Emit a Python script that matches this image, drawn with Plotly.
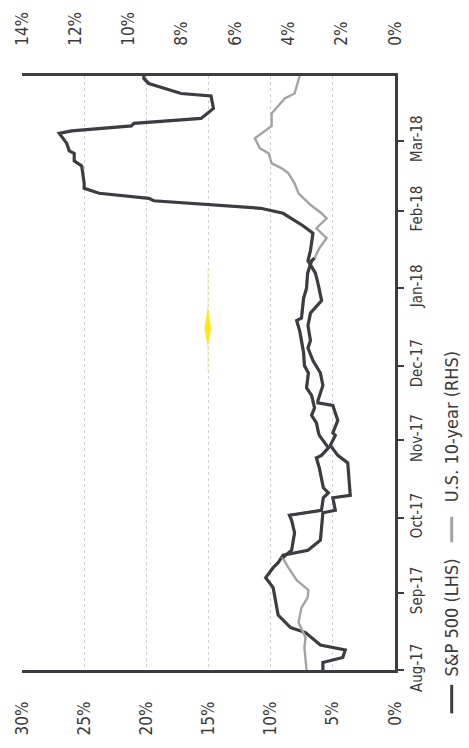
import pandas as pd
import plotly.graph_objects as go

# S&P 500 rolling volatility (left-hand scale, %)
spx_dates = [
    "2017-08-01", "2017-08-04", "2017-08-06", "2017-08-09", "2017-08-11", "2017-08-16",
    "2017-08-18", "2017-08-21", "2017-08-23", "2017-09-03", "2017-09-07", "2017-09-11",
    "2017-09-13", "2017-09-16", "2017-09-18", "2017-09-22", "2017-10-01", "2017-10-03",
    "2017-10-04", "2017-10-09", "2017-10-10", "2017-10-21", "2017-10-23", "2017-10-26",
    "2017-10-30", "2017-11-03", "2017-11-04", "2017-11-09", "2017-11-15", "2017-11-16",
    "2017-11-17", "2017-11-23", "2017-11-28", "2017-12-03", "2017-12-08", "2017-12-11",
    "2017-12-17", "2017-12-22", "2017-12-27", "2018-01-03", "2018-01-07", "2018-01-12",
    "2018-01-16", "2018-01-23", "2018-01-26", "2018-01-31", "2018-02-02", "2018-02-05",
    "2018-02-06", "2018-02-08", "2018-02-10", "2018-02-12", "2018-02-19", "2018-02-21",
    "2018-02-24", "2018-02-25", "2018-02-28", "2018-03-04", "2018-03-05", "2018-03-07",
    "2018-03-08", "2018-03-10", "2018-03-14", "2018-03-19", "2018-03-20", "2018-03-24",
    "2018-03-26", "2018-03-27",
]
spx_vol = [
    5.8, 5.8, 4.2, 4.0, 6.0, 7.2,
    8.4, 9.0, 9.4, 9.8, 10.4, 9.8,
    9.4, 9.0, 7.0, 6.0, 5.8, 5.8,
    4.8, 5.0, 3.6, 3.8, 3.8, 4.6,
    5.2, 4.8, 5.0, 4.6, 5.0, 6.2,
    6.2, 5.8, 6.0, 6.6, 7.0, 6.8,
    7.0, 6.8, 5.9, 6.2, 6.4, 7.0,
    6.8, 6.6, 7.4, 9.0, 10.8, 19.4,
    19.8, 23.8, 25.0, 25.0, 25.2, 25.8,
    25.8, 26.2, 26.4, 27.0, 26.0, 21.2,
    21.0, 15.6, 14.6, 14.8, 17.2, 19.8,
    20.2, 20.2,
]

# U.S. 10-year rolling volatility (right-hand scale, %)
ust_dates = [
    "2017-08-01", "2017-08-10", "2017-08-14", "2017-08-20", "2017-08-26", "2017-08-30",
    "2017-09-02", "2017-09-06", "2017-09-11", "2017-09-15", "2017-09-18", "2017-09-25",
    "2017-09-30", "2017-10-02", "2017-10-04", "2017-10-09", "2017-10-11", "2017-10-13",
    "2017-10-21", "2017-10-25", "2017-10-26", "2017-10-29", "2017-11-03", "2017-11-04",
    "2017-11-08", "2017-11-11", "2017-11-14", "2017-11-19", "2017-11-22", "2017-11-28",
    "2017-12-01", "2017-12-06", "2017-12-12", "2017-12-15", "2017-12-19", "2017-12-20",
    "2017-12-28", "2018-01-01", "2018-01-07", "2018-01-12", "2018-01-13", "2018-01-17",
    "2018-01-21", "2018-01-25", "2018-01-29", "2018-01-31", "2018-02-03", "2018-02-06",
    "2018-02-08", "2018-02-12", "2018-02-16", "2018-02-18", "2018-02-20", "2018-02-24",
    "2018-02-26", "2018-03-02", "2018-03-07", "2018-03-12", "2018-03-18", "2018-03-20",
    "2018-03-25", "2018-03-27",
]
ust_vol = [
    3.32, 3.40, 3.36, 3.62, 3.51, 3.28,
    3.25, 3.69, 4.00, 4.22, 3.88, 3.77,
    3.88, 3.96, 2.76, 2.69, 2.50, 2.69,
    2.84, 2.95, 2.76, 2.50, 2.84, 2.87,
    2.95, 3.13, 3.02, 3.13, 3.32, 3.25,
    3.40, 3.43, 3.51, 3.58, 3.69, 3.51,
    3.43, 3.32, 3.28, 3.13, 3.02, 2.84,
    2.57, 2.95, 2.57, 2.76, 3.13, 3.43,
    3.62, 3.77, 4.00, 4.25, 4.63, 4.74,
    5.07, 5.26, 4.63, 4.63, 4.14, 3.77,
    3.62, 3.58,
]

# period where the 10-year line is printed in the dark ink
ust_dark_from, ust_dark_to = "2017-09-15", "2018-01-13"

lhs_ticks = [0, 5, 10, 15, 20, 25, 30]
rhs_ticks = [0, 2, 4, 6, 8, 10, 12, 14]
month_ticks = ["2017-08-01", "2017-09-01", "2017-10-01", "2017-11-01", "2017-12-01",
               "2018-01-01", "2018-02-01", "2018-03-01"]
month_labels = ["Aug-17", "Sep-17", "Oct-17", "Nov-17", "Dec-17", "Jan-18", "Feb-18", "Mar-18"]
legend_names = ["S&P 500 (LHS)", "U.S. 10-year (RHS)"]

DARK = "#3c3c42"
GREY = "#a3a3a3"
TEXT = "#3a3a3a"
FONT = "DejaVu Sans Condensed, Liberation Sans Narrow, Roboto, sans-serif"

spx = pd.DataFrame({"date": pd.to_datetime(spx_dates), "vol": spx_vol})
ust = pd.DataFrame({"date": pd.to_datetime(ust_dates), "vol": ust_vol})
ust_mid = ust[(ust["date"] >= ust_dark_from) & (ust["date"] <= ust_dark_to)]

fig = go.Figure()
# chart is laid out sideways: dates run up the page, values run right-to-left
fig.add_trace(go.Scatter(x=ust["vol"], y=ust["date"], xaxis="x2", yaxis="y",
                         mode="lines", line=dict(color=GREY, width=2.4),
                         name=legend_names[1], showlegend=False))
fig.add_trace(go.Scatter(x=ust_mid["vol"], y=ust_mid["date"], xaxis="x2", yaxis="y",
                         mode="lines", line=dict(color=DARK, width=3.2),
                         showlegend=False, hoverinfo="skip"))
fig.add_trace(go.Scatter(x=spx["vol"], y=spx["date"], xaxis="x", yaxis="y",
                         mode="lines", line=dict(color=DARK, width=3.2),
                         name=legend_names[0], showlegend=False))

tick_font = dict(family=FONT, size=17, color=TEXT)

fig.update_layout(
    width=469, height=748,
    margin=dict(l=20, r=74, t=63, b=65),
    paper_bgcolor="white", plot_bgcolor="white",
    showlegend=False,
    xaxis=dict(
        range=[30, 0], side="bottom",
        tickvals=lhs_ticks, ticktext=[f"{v}%" for v in lhs_ticks],
        tickangle=-90, tickfont=tick_font, ticklabelstandoff=22,
        showgrid=True, gridcolor="#cfcfcf", griddash="dot", gridwidth=1,
        showline=True, linecolor=DARK, linewidth=2.5, ticks="", zeroline=False,
    ),
    xaxis2=dict(
        range=[14, 0], side="top", overlaying="x",
        tickvals=rhs_ticks, ticktext=[f"{v}%" for v in rhs_ticks],
        tickangle=-90, tickfont=tick_font, ticklabelstandoff=24,
        showgrid=False, showline=True, linecolor=DARK, linewidth=2.5,
        ticks="", zeroline=False,
    ),
    yaxis=dict(
        type="date", range=["2017-08-01", "2018-03-27"], side="right",
        tickvals=month_ticks, ticktext=month_labels,
        tickangle=-90, tickfont=dict(family=FONT, size=15, color=TEXT),
        ticks="outside", ticklen=6, tickwidth=2, tickcolor=DARK,
        showline=True, linecolor=DARK, linewidth=2.5,
        showgrid=False, zeroline=False,
    ),
)

# legend, rotated with the rest of the chart
leg_x = 1.152
fig.add_shape(type="line", xref="paper", yref="paper", x0=leg_x, x1=leg_x,
              y0=-0.025, y1=-0.073, line=dict(color=DARK, width=3))
fig.add_shape(type="line", xref="paper", yref="paper", x0=leg_x, x1=leg_x,
              y0=0.258, y1=0.215, line=dict(color=GREY, width=3))
fig.add_annotation(xref="paper", yref="paper", x=leg_x, y=0.088, text=legend_names[0],
                   textangle=-90, showarrow=False, xanchor="center", yanchor="middle",
                   font=dict(family=FONT, size=18, color=TEXT))
fig.add_annotation(xref="paper", yref="paper", x=leg_x, y=0.41, text=legend_names[1],
                   textangle=-90, showarrow=False, xanchor="center", yanchor="middle",
                   font=dict(family=FONT, size=18, color=TEXT))

# highlighter streak across the middle of the plot
fig.add_shape(type="line", xref="paper", yref="paper", x0=0.498, x1=0.498,
              y0=0.675, y1=0.505, line=dict(color="rgba(250,240,130,0.5)", width=2))
fig.add_shape(type="path", xref="paper", yref="paper",
              path="M 0.498 0.61 L 0.507 0.575 L 0.498 0.545 L 0.489 0.575 Z",
              line=dict(width=0), fillcolor="rgba(255,230,0,0.9)")

fig.write_html("out.html")
